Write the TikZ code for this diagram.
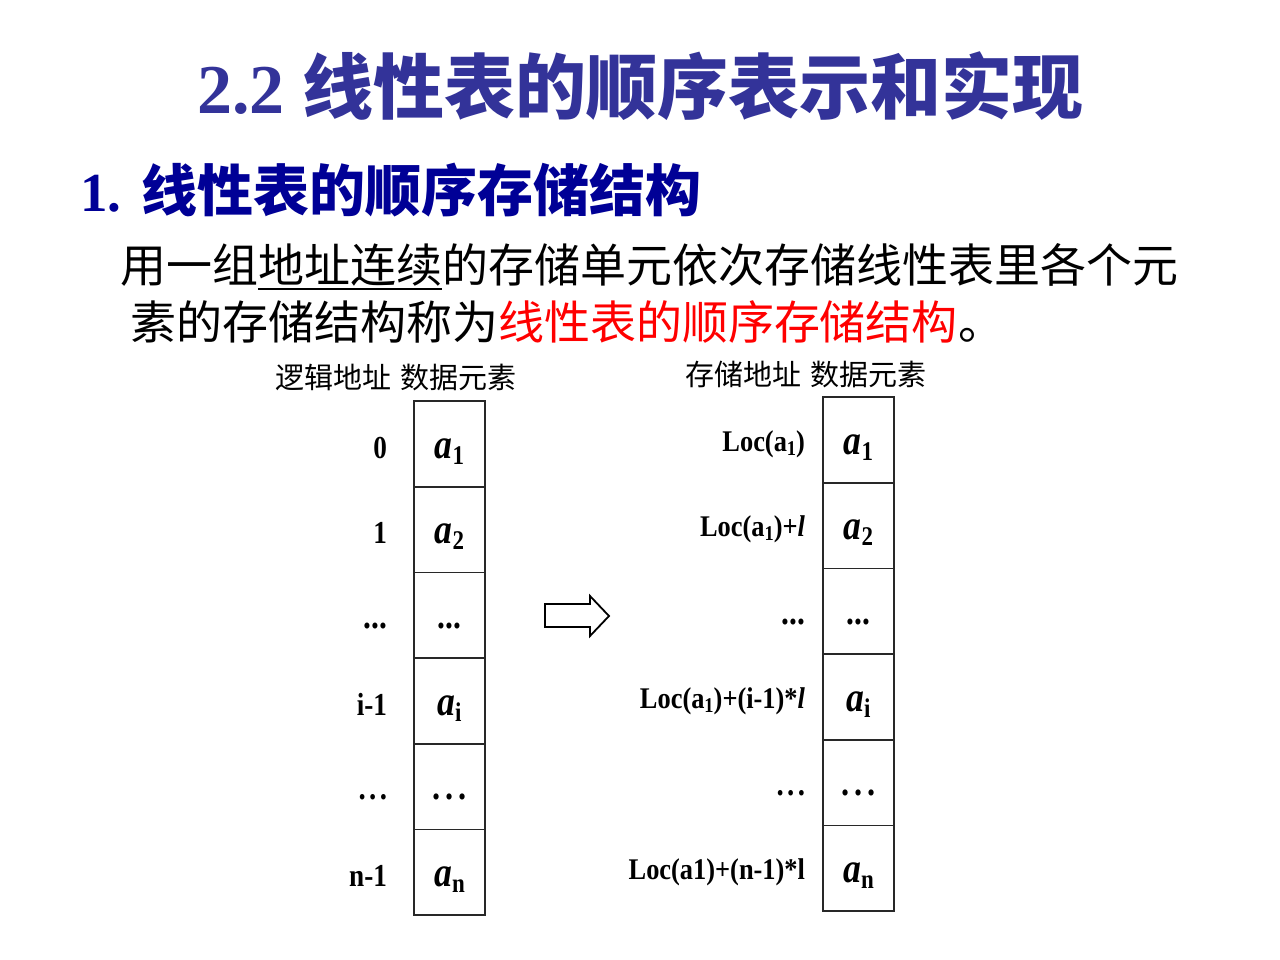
\documentclass[tikz,border=0pt]{standalone}
\usepackage{fontspec}
\usepackage{graphicx}
\usetikzlibrary{calc}
\setmainfont{Liberation Serif}
\newfontfamily\cjk{Noto Sans CJK SC}
\definecolor{titleblue}{RGB}{51,51,153}
\definecolor{subnavy}{RGB}{0,0,150}
\definecolor{boxline}{RGB}{40,40,40}
\newcommand\fs[1]{\fontsize{#1}{#1}\selectfont}
\newcommand\nar[1]{\scalebox{0.85}[1]{#1}}
\newcommand\narb[1]{\scalebox{0.88}[1]{#1}}
\newcommand\elem[1]{\nar{{\fs{42}\bfseries\itshape a}\raisebox{-6pt}{\fs{27}\bfseries\upshape #1}}}
\newcommand\lsub[1]{\raisebox{-4pt}{\fs{21}\bfseries #1}}
\newcommand\tightdots{\nar{\fs{37}\bfseries ...}}
\newcommand\wideLdots{\nar{\fs{34}\bfseries .\hspace{4pt}.\hspace{4pt}.}}
\newcommand\wideCdots{\nar{\fs{38}\bfseries .\hspace{6pt}.\hspace{6pt}.}}
\tikzset{
  cell/.style={draw=boxline, line width=1.6pt, minimum width=71pt, minimum height=85.7pt, inner sep=0pt, outer sep=0pt},
  txt/.style={inner sep=0pt, outer sep=0pt},
}
\begin{document}
\begin{tikzpicture}[x=1pt, y=-1pt]
\useasboundingbox (0,0) rectangle (1280,960);
\fill[white] (0,0) rectangle (1280,960);

% title
\node[txt, anchor=base west] (title) at (197,114)
  {\color{titleblue}\fs{70}\bfseries 2.2\hspace{18pt}{\cjk\fs{71}\bfseries 线性表的顺序表示和实现}};

% subtitle
\node[txt, anchor=base west] (sub) at (80,212)
  {\color{subnavy}\fs{55}\bfseries 1.\hspace{20pt}{\cjk\fs{56}\bfseries 线性表的顺序存储结构}};

% body
\node[txt, anchor=base west] (l1a) at (120,282) {\cjk\fs{46}用一组};
\node[txt, anchor=base west] (l1b) at (l1a.base east) {\cjk\fs{46}地址连续};
\node[txt, anchor=base west] (l1c) at (l1b.base east) {\cjk\fs{46}的存储单元依次存储线性表里各个元};
\draw[line width=2pt] ($(l1b.base west)+(0,7)$) -- ($(l1b.base east)+(0,7)$);
\node[txt, anchor=base west] (l2) at (130,339)
  {\cjk\fs{46}素的存储结构称为{\color{red}线性表的顺序存储结构}。};

% headers
\node[txt, anchor=base west] (hl) at (275,388) {\cjk\fs{29}逻辑地址\hspace{10pt}数据元素};
\node[txt, anchor=base west] (hr) at (685,385) {\cjk\fs{29}存储地址\hspace{10pt}数据元素};

% columns
\foreach \i in {0,...,5} {
  \node[cell, anchor=north west] (L\i) at (414,{401+85.67*\i}) {};
  \node[cell, anchor=north west] (R\i) at (823,{397+85.67*\i}) {};
}

% left column contents
\node[txt, anchor=base] (cl0) at ($(L0.north)+(0,57)$) {\elem{1}};
\node[txt, anchor=base] (cl1) at ($(L1.north)+(0,57)$) {\elem{2}};
\node[txt, anchor=base] (cl2) at ($(L2.north)+(0,56)$) {\tightdots};
\node[txt, anchor=base] (cl3) at ($(L3.north)+(0,57)$) {\elem{i}};
\node[txt, anchor=base] (cl4) at ($(L4.north)+(0,56)$) {\wideCdots};
\node[txt, anchor=base] (cl5) at ($(L5.north)+(0,57)$) {\elem{n}};

% left indices
\node[txt, anchor=base east] (il0) at ($(L0.north west)+(-27,57)$) {\nar{\fs{32}\bfseries 0}};
\node[txt, anchor=base east] (il1) at ($(L1.north west)+(-27,57)$) {\nar{\fs{32}\bfseries 1}};
\node[txt, anchor=base east] (il2) at ($(L2.north west)+(-27,56)$) {\tightdots};
\node[txt, anchor=base east] (il3) at ($(L3.north west)+(-27,57)$) {\nar{\fs{32}\bfseries i-1}};
\node[txt, anchor=base east] (il4) at ($(L4.north west)+(-27,56)$) {\wideLdots};
\node[txt, anchor=base east] (il5) at ($(L5.north west)+(-27,57)$) {\nar{\fs{32}\bfseries n-1}};

% right column contents
\node[txt, anchor=base] (cr0) at ($(R0.north)+(0,57)$) {\elem{1}};
\node[txt, anchor=base] (cr1) at ($(R1.north)+(0,57)$) {\elem{2}};
\node[txt, anchor=base] (cr2) at ($(R2.north)+(0,56)$) {\tightdots};
\node[txt, anchor=base] (cr3) at ($(R3.north)+(0,57)$) {\elem{i}};
\node[txt, anchor=base] (cr4) at ($(R4.north)+(0,56)$) {\wideCdots};
\node[txt, anchor=base] (cr5) at ($(R5.north)+(0,57)$) {\elem{n}};

% right addresses
\node[txt, anchor=base east] (ar0) at ($(R0.north west)+(-18,54)$) {\narb{\fs{30}\bfseries Loc(a\lsub{1})}};
\node[txt, anchor=base east] (ar1) at ($(R1.north west)+(-18,54)$) {\narb{\fs{30}\bfseries Loc(a\lsub{1})+{\itshape l}}};
\node[txt, anchor=base east] (ar2) at ($(R2.north west)+(-18,56)$) {\tightdots};
\node[txt, anchor=base east] (ar3) at ($(R3.north west)+(-18,54)$) {\narb{\fs{30}\bfseries Loc(a\lsub{1})+(i-1)*{\itshape l}}};
\node[txt, anchor=base east] (ar4) at ($(R4.north west)+(-18,56)$) {\wideLdots};
\node[txt, anchor=base east] (ar5) at ($(R5.north west)+(-18,54)$) {\narb{\fs{30}\bfseries Loc(a1)+(n-1)*l}};

% hollow arrow
\draw[line width=1.8pt, fill=white, line join=miter]
  (545,604) -- (590,604) -- (590,596) -- (609,616) -- (590,636) -- (590,627) -- (545,627) -- cycle;
\end{tikzpicture}
\end{document}
